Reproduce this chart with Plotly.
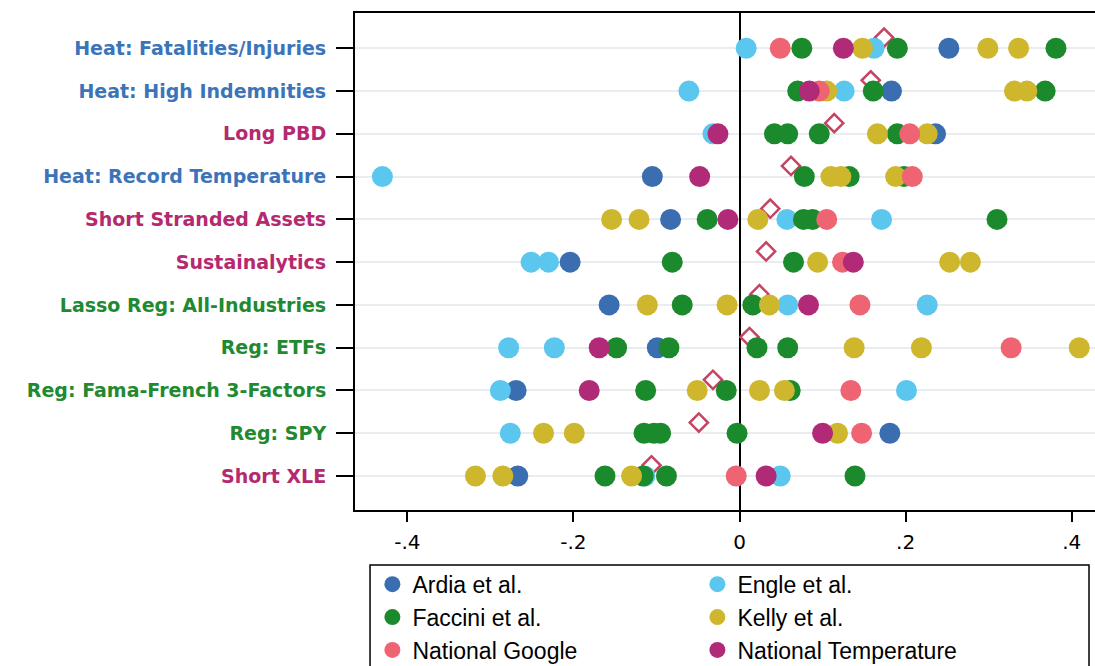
import plotly.graph_objects as go

# Strategy rows, listed top to bottom
categories = [
    "Heat: Fatalities/Injuries",
    "Heat: High Indemnities",
    "Long PBD",
    "Heat: Record Temperature",
    "Short Stranded Assets",
    "Sustainalytics",
    "Lasso Reg: All-Industries",
    "Reg: ETFs",
    "Reg: Fama-French 3-Factors",
    "Reg: SPY",
    "Short XLE",
]
label_colors = [
    "#3b74b8", "#3b74b8", "#b5296f", "#3b74b8", "#b5296f", "#b5296f",
    "#218a30", "#218a30", "#218a30", "#218a30", "#b5296f",
]

# Estimates per climate-news index, one list per row
ardia = [[0.252], [0.183], [0.236], [-0.105], [-0.083], [-0.204],
         [-0.157], [-0.099], [-0.269], [0.181], [-0.267]]
engle = [[0.008, 0.162], [-0.061, 0.126], [-0.032], [-0.430], [0.057, 0.171],
         [-0.251, -0.230], [0.058, 0.226], [-0.278, -0.223], [-0.288, 0.201],
         [-0.276], [-0.114, 0.049]]
faccini = [[0.075, 0.190, 0.381], [0.070, 0.161, 0.368], [0.042, 0.058, 0.096, 0.190],
           [0.078, 0.132, 0.198], [-0.039, 0.077, 0.088, 0.310], [-0.081, 0.065],
           [-0.069, 0.016], [-0.148, -0.085, 0.021, 0.058], [-0.113, -0.016, 0.061],
           [-0.115, -0.103, -0.095, -0.003], [-0.162, -0.116, -0.088, 0.139]]
kelly = [[0.148, 0.299, 0.336], [0.105, 0.331, 0.346], [0.166, 0.226],
         [0.110, 0.122, 0.188], [-0.154, -0.121, 0.022], [0.094, 0.253, 0.278],
         [-0.111, -0.015, 0.036], [0.138, 0.219, 0.409], [-0.051, 0.024, 0.054],
         [-0.236, -0.199, 0.118], [-0.318, -0.285, -0.130]]
national_google = [[0.049], [0.096], [0.205], [0.208], [0.105], [0.124],
                   [0.145], [0.327], [0.134], [0.147], [-0.004]]
national_temperature = [[0.125], [0.084], [-0.026], [-0.048], [-0.014], [0.137],
                        [0.083], [-0.169], [-0.181], [0.100], [0.032]]
row_mean = [0.174, 0.158, 0.114, 0.062, 0.037, 0.032, 0.024, 0.012, -0.032, -0.049, -0.106]

series = [
    ("Ardia et al.", ardia, "#3a6eb0"),
    ("Engle et al.", engle, "#5bc6ee"),
    ("Faccini et al.", faccini, "#1b8a2c"),
    ("Kelly et al.", kelly, "#cfb72d"),
    ("National Google", national_google, "#ef6472"),
    ("National Temperature", national_temperature, "#b02a78"),
]

n = len(categories)
row_pos = [n - i for i in range(n)]  # top row gets the highest position

fig = go.Figure()

# Row means as hollow diamonds, nudged slightly above each row
fig.add_trace(go.Scatter(
    x=row_mean, y=[p + 0.25 for p in row_pos], mode="markers",
    marker=dict(symbol="diamond-open", size=14, color="#c44462", line=dict(width=2.5)),
    showlegend=False, hoverinfo="x",
))

for name, rows, color in series:
    xs, ys = [], []
    for pos, vals in zip(row_pos, rows):
        for v in vals:
            xs.append(v)
            ys.append(pos)
    fig.add_trace(go.Scatter(
        x=xs, y=ys, mode="markers", name=name,
        marker=dict(size=21, color=color, line=dict(width=0)),
    ))

ticktext = [f"<span style='color:{c}'><b>{t}</b></span>" for t, c in zip(categories, label_colors)]

fig.update_layout(
    width=1095, height=666,
    margin=dict(l=355, r=0, t=13, b=156, autoexpand=False),
    plot_bgcolor="white", paper_bgcolor="white",
    font=dict(family="DejaVu Sans", color="black"),
    xaxis=dict(
        range=[-0.463, 0.428],
        tickvals=[-0.4, -0.2, 0, 0.2, 0.4],
        ticktext=["-.4", "-.2", "0", ".2", ".4"],
        ticks="outside", ticklen=10, tickwidth=2, tickcolor="black",
        tickfont=dict(size=20, color="black"),
        ticklabelstandoff=3,
        showline=True, linecolor="black", linewidth=2, mirror=True,
        showgrid=False,
        zeroline=True, zerolinecolor="black", zerolinewidth=2,
    ),
    yaxis=dict(
        range=[0.206, 11.825],
        tickvals=row_pos, ticktext=ticktext,
        ticks="outside", ticklen=17, tickwidth=2, tickcolor="black",
        tickfont=dict(size=19),
        ticklabelstandoff=6,
        showline=True, linecolor="black", linewidth=2,
        showgrid=True, gridcolor="#e9edf0", gridwidth=2,
        zeroline=False,
    ),
    legend=dict(
        orientation="h", x=0.0235, y=-0.106, xanchor="left", yanchor="top",
        entrywidth=280, entrywidthmode="pixels",
        font=dict(family="Liberation Sans", size=23, color="black"),
        bgcolor="rgba(0,0,0,0)", borderwidth=0,
        itemsizing="trace",
    ),
    shapes=[dict(
        type="rect", xref="paper", yref="paper",
        x0=0.0203, x1=0.9919, y0=-0.36, y1=-0.1107,
        line=dict(color="black", width=1.5), fillcolor="rgba(0,0,0,0)",
        layer="below",
    )],
)

fig.write_html("out.html")
